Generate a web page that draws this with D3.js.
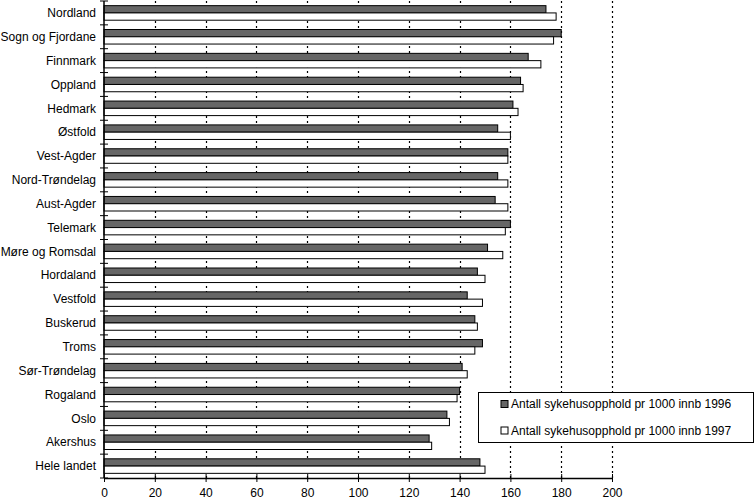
<!DOCTYPE html>
<html>
  <head>
    <meta charset="UTF-8" />
    <style>
      body { margin: 0; background: #fff; }
      text { font-family: "Liberation Sans", Arial, sans-serif; }
    </style>
  </head>
  <body>
    <script src="https://cdn.jsdelivr.net/npm/d3@7/dist/d3.min.js"></script>
    <script>
      var fylker = ["Nordland", "Sogn og Fjordane", "Finnmark", "Oppland", "Hedmark",
                    "Østfold", "Vest-Agder", "Nord-Trøndelag", "Aust-Agder", "Telemark",
                    "Møre og Romsdal", "Hordaland", "Vestfold", "Buskerud", "Troms",
                    "Sør-Trøndelag", "Rogaland", "Oslo", "Akershus", "Hele landet"];
      var v1996 = [174, 180, 167, 164, 161, 155, 159, 155, 154, 160,
                   151, 147, 143, 146, 149, 141, 140, 135, 128, 148];
      var v1997 = [178, 177, 172, 165, 163, 160, 159, 159, 159, 158,
                   157, 150, 149, 147, 146, 143, 139, 136, 129, 150];
      var aar = ["1996", "1997"];
      var legendText = ["Antall sykehusopphold pr 1000 innb 1996",
                        "Antall sykehusopphold pr 1000 innb 1997"];
      var xTicks = [0, 20, 40, 60, 80, 100, 120, 140, 160, 180, 200];

      var mLeft = 104, mTop = 1, plotW = 508, plotH = 477;
      var colors = {"1996": "#666666", "1997": "#ffffff"};

      var svg = d3.select("body").append("svg")
        .attr("width", 755).attr("height", 503);

      var x = d3.scaleLinear().domain([0, 200]).range([mLeft, mLeft + plotW]);
      var y = d3.scaleBand().domain(fylker).range([mTop, mTop + plotH]).padding(0);
      var sub = d3.scaleBand().domain(aar).range([0, y.bandwidth()])
        .paddingInner(0).paddingOuter(0.64);

      // gridlines
      svg.append("g").selectAll("line")
        .data(xTicks.slice(1))
        .enter().append("line")
        .attr("x1", function(d) { return Math.round(x(d)) + 0.5; })
        .attr("x2", function(d) { return Math.round(x(d)) + 0.5; })
        .attr("y1", mTop).attr("y2", mTop + plotH)
        .style("stroke", "#000")
        .style("stroke-width", 1.2)
        .style("stroke-dasharray", "2,3");

      var rows = fylker.map(function(f, i) {
        return {navn: f, verdier: [{aar: "1996", v: v1996[i]}, {aar: "1997", v: v1997[i]}]};
      });

      var groups = svg.append("g").selectAll("g")
        .data(rows)
        .enter().append("g")
        .attr("transform", function(d) { return "translate(0," + y(d.navn) + ")"; });

      groups.selectAll("rect")
        .data(function(d) { return d.verdier; })
        .enter().append("rect")
        .attr("x", x(0))
        .attr("y", function(d) { return sub(d.aar); })
        .attr("width", function(d) { return x(d.v) - x(0); })
        .attr("height", sub.bandwidth())
        .style("fill", function(d) { return colors[d.aar]; })
        .style("stroke", "#000")
        .style("stroke-width", 1);

      // y axis
      var yAxis = svg.append("g");
      yAxis.append("line")
        .attr("x1", mLeft).attr("x2", mLeft)
        .attr("y1", mTop).attr("y2", mTop + plotH)
        .style("stroke", "#000").style("stroke-width", 1.5);
      yAxis.selectAll("line.tick")
        .data(d3.range(fylker.length + 1))
        .enter().append("line")
        .attr("class", "tick")
        .attr("x1", mLeft - 4).attr("x2", mLeft + 4)
        .attr("y1", function(i) { return mTop + i * y.step(); })
        .attr("y2", function(i) { return mTop + i * y.step(); })
        .style("stroke", "#000");
      yAxis.selectAll("text")
        .data(fylker)
        .enter().append("text")
        .attr("x", mLeft - 8)
        .attr("y", function(d) { return y(d) + y.bandwidth() / 2; })
        .attr("dy", "0.35em")
        .attr("text-anchor", "end")
        .style("font-size", "12px")
        .text(function(d) { return d; });

      // x axis
      var xAxis = d3.axisBottom(x).tickValues(xTicks).tickSize(4).tickSizeOuter(0);
      var xg = svg.append("g")
        .attr("transform", "translate(0," + (mTop + plotH) + ")")
        .call(xAxis);
      xg.select(".domain").style("stroke-width", 1.5);
      xg.selectAll(".tick line").attr("y1", -4);
      xg.selectAll(".tick text")
        .attr("y", 10)
        .style("font-size", "12px")
        .style("font-family", "'Liberation Sans', Arial, sans-serif");

      // legend
      var lg = svg.append("g");
      lg.append("rect")
        .attr("x", 478.5).attr("y", 392.5)
        .attr("width", 275).attr("height", 50)
        .style("fill", "#fff").style("stroke", "#000");
      lg.selectAll("rect.sw")
        .data(aar)
        .enter().append("rect")
        .attr("class", "sw")
        .attr("x", 501).attr("y", function(d, i) { return 400.5 + i * 26.5; })
        .attr("width", 7).attr("height", 7)
        .style("fill", function(d) { return colors[d]; })
        .style("stroke", "#000");
      lg.selectAll("text")
        .data(legendText)
        .enter().append("text")
        .attr("x", 511)
        .attr("y", function(d, i) { return 404 + i * 26.5; })
        .attr("dy", "0.35em")
        .style("font-size", "12px")
        .text(function(d) { return d; });
    </script>
  </body>
</html>
